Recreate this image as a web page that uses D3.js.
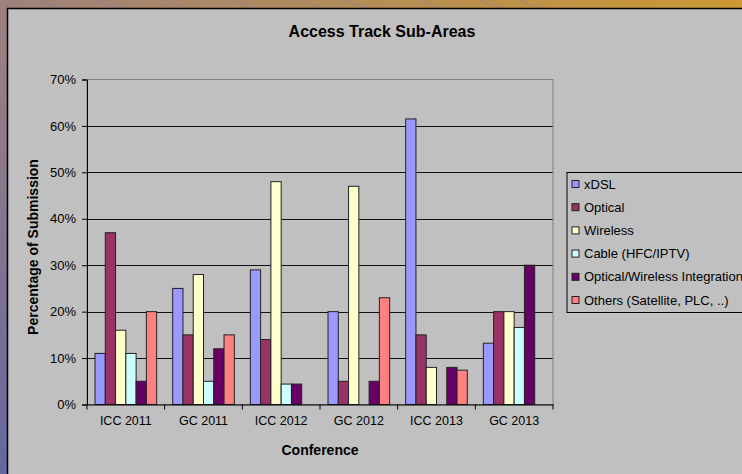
<!DOCTYPE html>
<html>
<head>
<meta charset="utf-8">
<script src="https://cdn.jsdelivr.net/npm/d3@7"></script>
<style>
  body { margin: 0; padding: 0; overflow: hidden; }
  text { font-family: "Liberation Sans", Arial, sans-serif; fill: #000; }
</style>
</head>
<body>
<div class="container"></div>
<script>
const WIDTH = 742;
const HEIGHT = 474;

// data
var conferences = ["ICC 2011", "GC 2011", "ICC 2012", "GC 2012", "ICC 2013", "GC 2013"];
var subAreas = ["xDSL", "Optical", "Wireless", "Cable (HFC/IPTV)", "Optical/Wireless Integration", "Others (Satellite, PLC, ..)"];
var xdsl     = [11, 25, 29, 20, 61.5, 13.2];
var optical  = [37, 15, 14, 5, 15, 20];
var wireless = [16, 28, 48, 47, 8, 20];
var cable    = [11, 5, 4.4, 0, 0, 16.6];
var optWir   = [5, 12, 4.4, 5, 8, 30];
var others   = [20, 15, 0, 23, 7.4, 0];
var yTicks   = [0, 10, 20, 30, 40, 50, 60, 70];

var series = [xdsl, optical, wireless, cable, optWir, others];
var colors = ["#9999ff", "#993366", "#ffffcc", "#ccffff", "#660066", "#ff8080"];

var translate = function(x, y){
	return "translate(" + x + ", " + y + ")";
};

var load = function(){
	var svg = d3.select(".container").append("svg")
		.attr("width", WIDTH)
		.attr("height", HEIGHT);

	// slide background behind the chart
	var defs = svg.append("defs");
	var grad = defs.append("linearGradient")
		.attr("id", "bg")
		.attr("x1", "0").attr("y1", "1").attr("x2", "1").attr("y2", "0");
	grad.append("stop").attr("offset", "0").attr("stop-color", "#66669e");
	grad.append("stop").attr("offset", "0.45").attr("stop-color", "#9a7f82");
	grad.append("stop").attr("offset", "1").attr("stop-color", "#cc9933");

	svg.append("rect")
		.attr("width", WIDTH).attr("height", HEIGHT)
		.attr("fill", "url(#bg)");

	// a few faint blue curves like the slide pattern
	var bgLines = svg.append("g")
		.attr("fill", "none")
		.attr("stroke", "#6c7ad0")
		.attr("stroke-opacity", 0.55)
		.attr("stroke-width", 0.7);
	[40, 95, 165, 235, 300, 345, 420, 480, 520].forEach(function(x0){
		bgLines.append("path").attr("d", "M" + x0 + ",0 Q" + (x0 + 10) + ",5 " + (x0 + 25) + ",9");
	});
	[30, 70, 120, 170, 220, 270, 320, 370, 420, 460].forEach(function(y0){
		bgLines.append("path").attr("d", "M0," + y0 + " L7," + (y0 + 14));
	});

	// chart area
	svg.append("rect")
		.attr("x", 7.5).attr("y", 8.5)
		.attr("width", WIDTH).attr("height", HEIGHT)
		.attr("fill", "#c0c0c0")
		.attr("stroke", "#000")
		.attr("stroke-width", 1.5);

	var left = 87, right = 553, top = 79.5, bottom = 404.5;

	var xScale = d3.scaleBand()
		.domain(conferences)
		.range([left, right]);

	var yScale = d3.scaleLinear()
		.domain([0, 70])
		.range([bottom, top]);

	var inner = d3.scaleBand()
		.domain(d3.range(subAreas.length))
		.range([0, xScale.bandwidth()])
		.paddingOuter(0.78)
		.paddingInner(0);

	// gridlines
	svg.append("g")
		.selectAll("line").data(yTicks.slice(1, -1))
		.enter().append("line")
		.attr("x1", left).attr("x2", right)
		.attr("y1", function(d){ return Math.round(yScale(d)) + 0.5; })
		.attr("y2", function(d){ return Math.round(yScale(d)) + 0.5; })
		.attr("stroke", "#111")
		.attr("stroke-width", 1);

	// plot area border
	svg.append("rect")
		.attr("x", left).attr("y", top)
		.attr("width", right - left).attr("height", bottom - top)
		.attr("fill", "none")
		.attr("stroke", "#808080")
		.attr("stroke-width", 1);

	// bars, one entry per (sub-area, conference) with a value
	var bars = [];
	series.forEach(function(vals, si){
		vals.forEach(function(v, ci){
			if (v > 0) bars.push({s: si, c: conferences[ci], v: v});
		});
	});

	svg.append("g")
		.selectAll("rect").data(bars)
		.enter().append("rect")
		.attr("x", function(d){ return xScale(d.c) + inner(d.s); })
		.attr("y", function(d){ return yScale(d.v); })
		.attr("width", inner.bandwidth())
		.attr("height", function(d){ return bottom - yScale(d.v); })
		.attr("fill", function(d){ return colors[d.s]; })
		.attr("stroke", "#222")
		.attr("stroke-width", 1);

	// axes
	var xAxis = d3.axisBottom(xScale).tickSize(0).tickPadding(12);
	var xAxisGroup = svg.append("g")
		.attr("transform", translate(0, bottom))
		.call(xAxis);
	xAxisGroup.select(".domain").attr("stroke", "#000");
	xAxisGroup.selectAll("text").attr("font-size", 12.5).attr("font-family", "Liberation Sans, Arial, sans-serif");
	xAxisGroup.selectAll(".bnd").data(d3.range(conferences.length + 1))
		.enter().append("line")
		.attr("x1", function(d){ return left + d * xScale.step(); })
		.attr("x2", function(d){ return left + d * xScale.step(); })
		.attr("y1", 0).attr("y2", 5)
		.attr("stroke", "#000");

	var yAxis = d3.axisLeft(yScale)
		.tickValues(yTicks)
		.tickSize(5)
		.tickPadding(6)
		.tickFormat(function(d){ return d + "%"; });
	var yAxisGroup = svg.append("g")
		.attr("transform", translate(left, 0))
		.call(yAxis);
	yAxisGroup.select(".domain").attr("stroke", "#000");
	yAxisGroup.selectAll("line").attr("stroke", "#000");
	yAxisGroup.selectAll("text").attr("font-size", 13).attr("font-family", "Liberation Sans, Arial, sans-serif");

	// titles
	svg.append("text")
		.attr("x", 382).attr("y", 37)
		.attr("text-anchor", "middle")
		.attr("font-size", 16)
		.attr("font-weight", "bold")
		.text("Access Track Sub-Areas");

	svg.append("text")
		.attr("x", 320).attr("y", 455)
		.attr("text-anchor", "middle")
		.attr("font-size", 14)
		.attr("font-weight", "bold")
		.text("Conference");

	svg.append("text")
		.attr("transform", translate(38, 247) + " rotate(-90)")
		.attr("text-anchor", "middle")
		.attr("font-size", 14)
		.attr("font-weight", "bold")
		.text("Percentage of Submission");

	// legend
	var legend = svg.append("g").attr("transform", translate(567, 172.5));
	legend.append("rect")
		.attr("width", 200).attr("height", 140)
		.attr("fill", "#c0c0c0")
		.attr("stroke", "#000");
	var items = legend.selectAll("g.item").data(subAreas)
		.enter().append("g")
		.attr("transform", function(d, i){ return translate(0, 11.5 + i * 23.2); });
	items.append("rect")
		.attr("x", 5).attr("y", -3.5)
		.attr("width", 7).attr("height", 7)
		.attr("fill", function(d, i){ return colors[i]; })
		.attr("stroke", "#222");
	items.append("text")
		.attr("x", 17).attr("y", 4.5)
		.attr("font-size", 13)
		.text(function(d){ return d; });
};

window.onload = load;
</script>
</body>
</html>
